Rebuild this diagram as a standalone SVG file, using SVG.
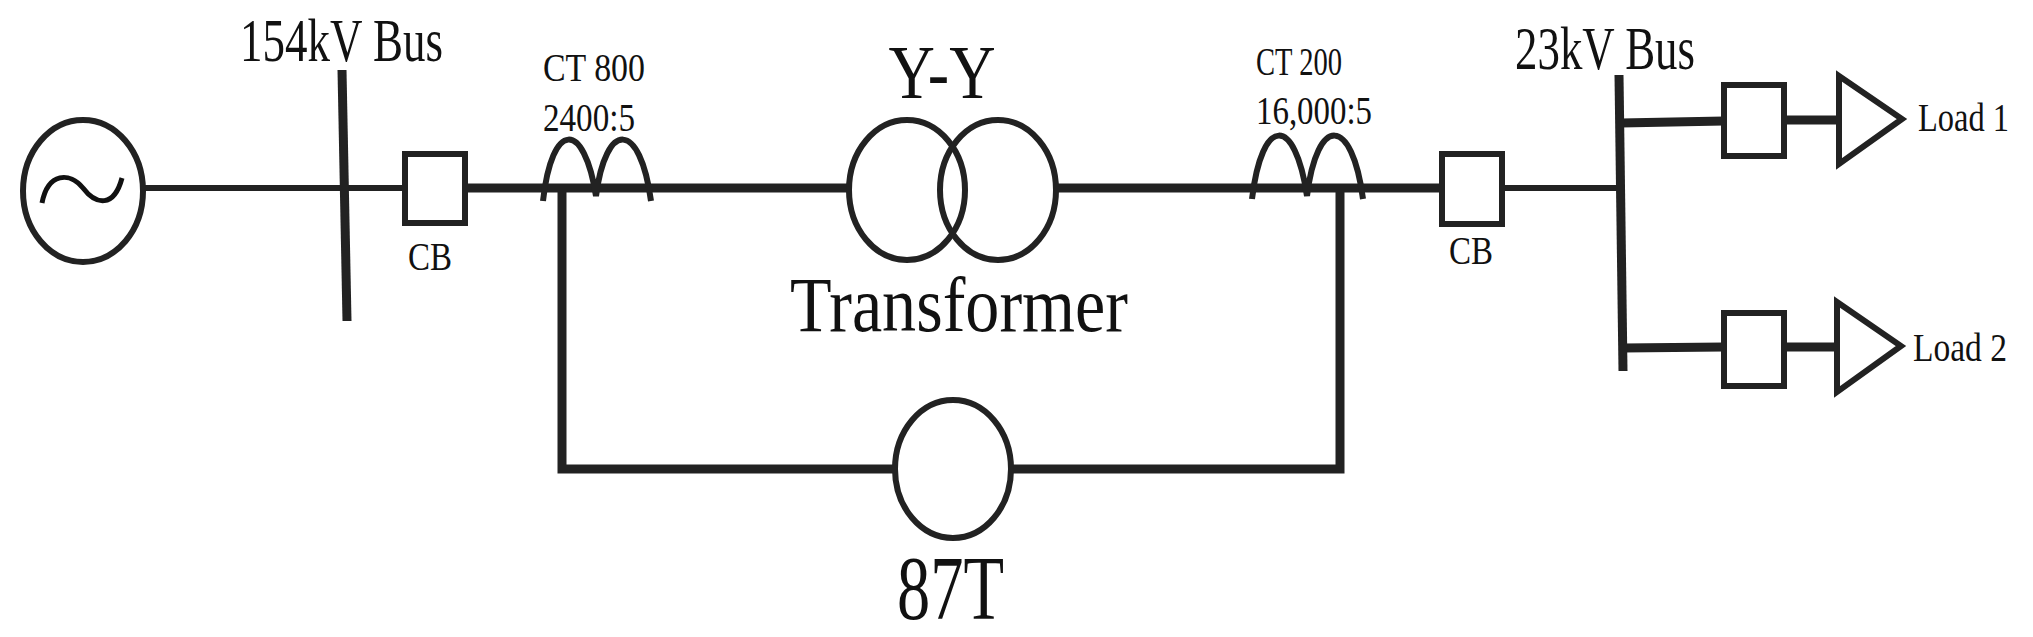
<svg xmlns="http://www.w3.org/2000/svg" width="2033" height="637" viewBox="0 0 2033 637">
<style>
.s{fill:none;stroke:#222;stroke-width:6;stroke-linecap:butt}
.t{fill:none;stroke:#222;stroke-width:9}
.b{fill:#fff;stroke:#222;stroke-width:6}
text{font-family:"Liberation Serif","Times New Roman",serif;fill:#111}
</style>
<rect width="2033" height="637" fill="#fff"/>
<g id="connectors">
<line class="s" x1="143" y1="188" x2="405" y2="188"/>
<line class="t" x1="465" y1="188" x2="849" y2="188"/>
<line class="t" x1="1057" y1="188" x2="1442" y2="188"/>
<line class="s" x1="1502" y1="188" x2="1621" y2="188"/>
<polyline class="t" points="562,188 562,469 894,469"/>
<polyline class="t" points="1011,469 1340,469 1340,188"/>
<line class="t" x1="1621" y1="123" x2="1724" y2="121"/>
<line class="t" x1="1784" y1="120" x2="1839" y2="120"/>
<line class="t" x1="1623" y1="348" x2="1724" y2="347"/>
<line class="t" x1="1784" y1="347" x2="1837" y2="347"/>
</g>
<g id="generator">
<ellipse class="s" cx="83" cy="191" rx="60" ry="71"/>
<path fill="none" stroke="#111" stroke-width="5" d="M42,203 C48,172 70,172 83,188 C96,205 114,208 122,178"/>
</g>
<g id="bus154">
<line class="t" x1="342" y1="70" x2="347" y2="321"/>
<text x="240" y="61" font-size="62" textLength="203" lengthAdjust="spacingAndGlyphs">154kV Bus</text>
</g>
<g id="cb1">
<rect class="b" x="405" y="154" width="60" height="69"/>
<text x="430" y="270" font-size="40" text-anchor="middle" textLength="44" lengthAdjust="spacingAndGlyphs">CB</text>
</g>
<g id="ct800">
<path class="s" d="M543,201 C552,120 584,120 596,196 C606,120 640,120 651,201"/>
<text x="543" y="81" font-size="40" textLength="102" lengthAdjust="spacingAndGlyphs">CT 800</text>
<text x="543" y="131" font-size="40" textLength="92" lengthAdjust="spacingAndGlyphs">2400:5</text>
</g>
<g id="transformer">
<ellipse class="s" cx="907" cy="190" rx="58" ry="70"/>
<ellipse class="s" cx="998" cy="190" rx="58" ry="70"/>
<text x="942" y="98" font-size="76" text-anchor="middle" textLength="107" lengthAdjust="spacingAndGlyphs">Y-Y</text>
<text x="790" y="331" font-size="78" textLength="338" lengthAdjust="spacingAndGlyphs">Transformer</text>
</g>
<g id="relay87T">
<ellipse class="s" cx="953" cy="469" rx="58" ry="69"/>
<text x="897" y="619" font-size="92" textLength="107" lengthAdjust="spacingAndGlyphs">87T</text>
</g>
<g id="ct200">
<path class="s" d="M1252,199 C1262,115 1295,115 1307,196 C1317,115 1352,115 1363,199"/>
<text x="1256" y="75" font-size="40" textLength="86" lengthAdjust="spacingAndGlyphs">CT 200</text>
<text x="1256" y="124" font-size="40" textLength="116" lengthAdjust="spacingAndGlyphs">16,000:5</text>
</g>
<g id="cb2">
<rect class="b" x="1442" y="154" width="60" height="70"/>
<text x="1471" y="264" font-size="40" text-anchor="middle" textLength="44" lengthAdjust="spacingAndGlyphs">CB</text>
</g>
<g id="bus23">
<line class="t" x1="1619" y1="75" x2="1623" y2="371"/>
<text x="1515" y="69" font-size="62" textLength="180" lengthAdjust="spacingAndGlyphs">23kV Bus</text>
</g>
<g id="load1">
<rect class="b" x="1724" y="85" width="60" height="71"/>
<polygon class="s" points="1839,76 1902,119 1839,164"/>
<text x="1918" y="131" font-size="40" textLength="91" lengthAdjust="spacingAndGlyphs">Load 1</text>
</g>
<g id="load2">
<rect class="b" x="1724" y="313" width="60" height="73"/>
<polygon class="s" points="1837,302 1901,346 1837,392"/>
<text x="1913" y="361" font-size="40" textLength="94" lengthAdjust="spacingAndGlyphs">Load 2</text>
</g>
</svg>
